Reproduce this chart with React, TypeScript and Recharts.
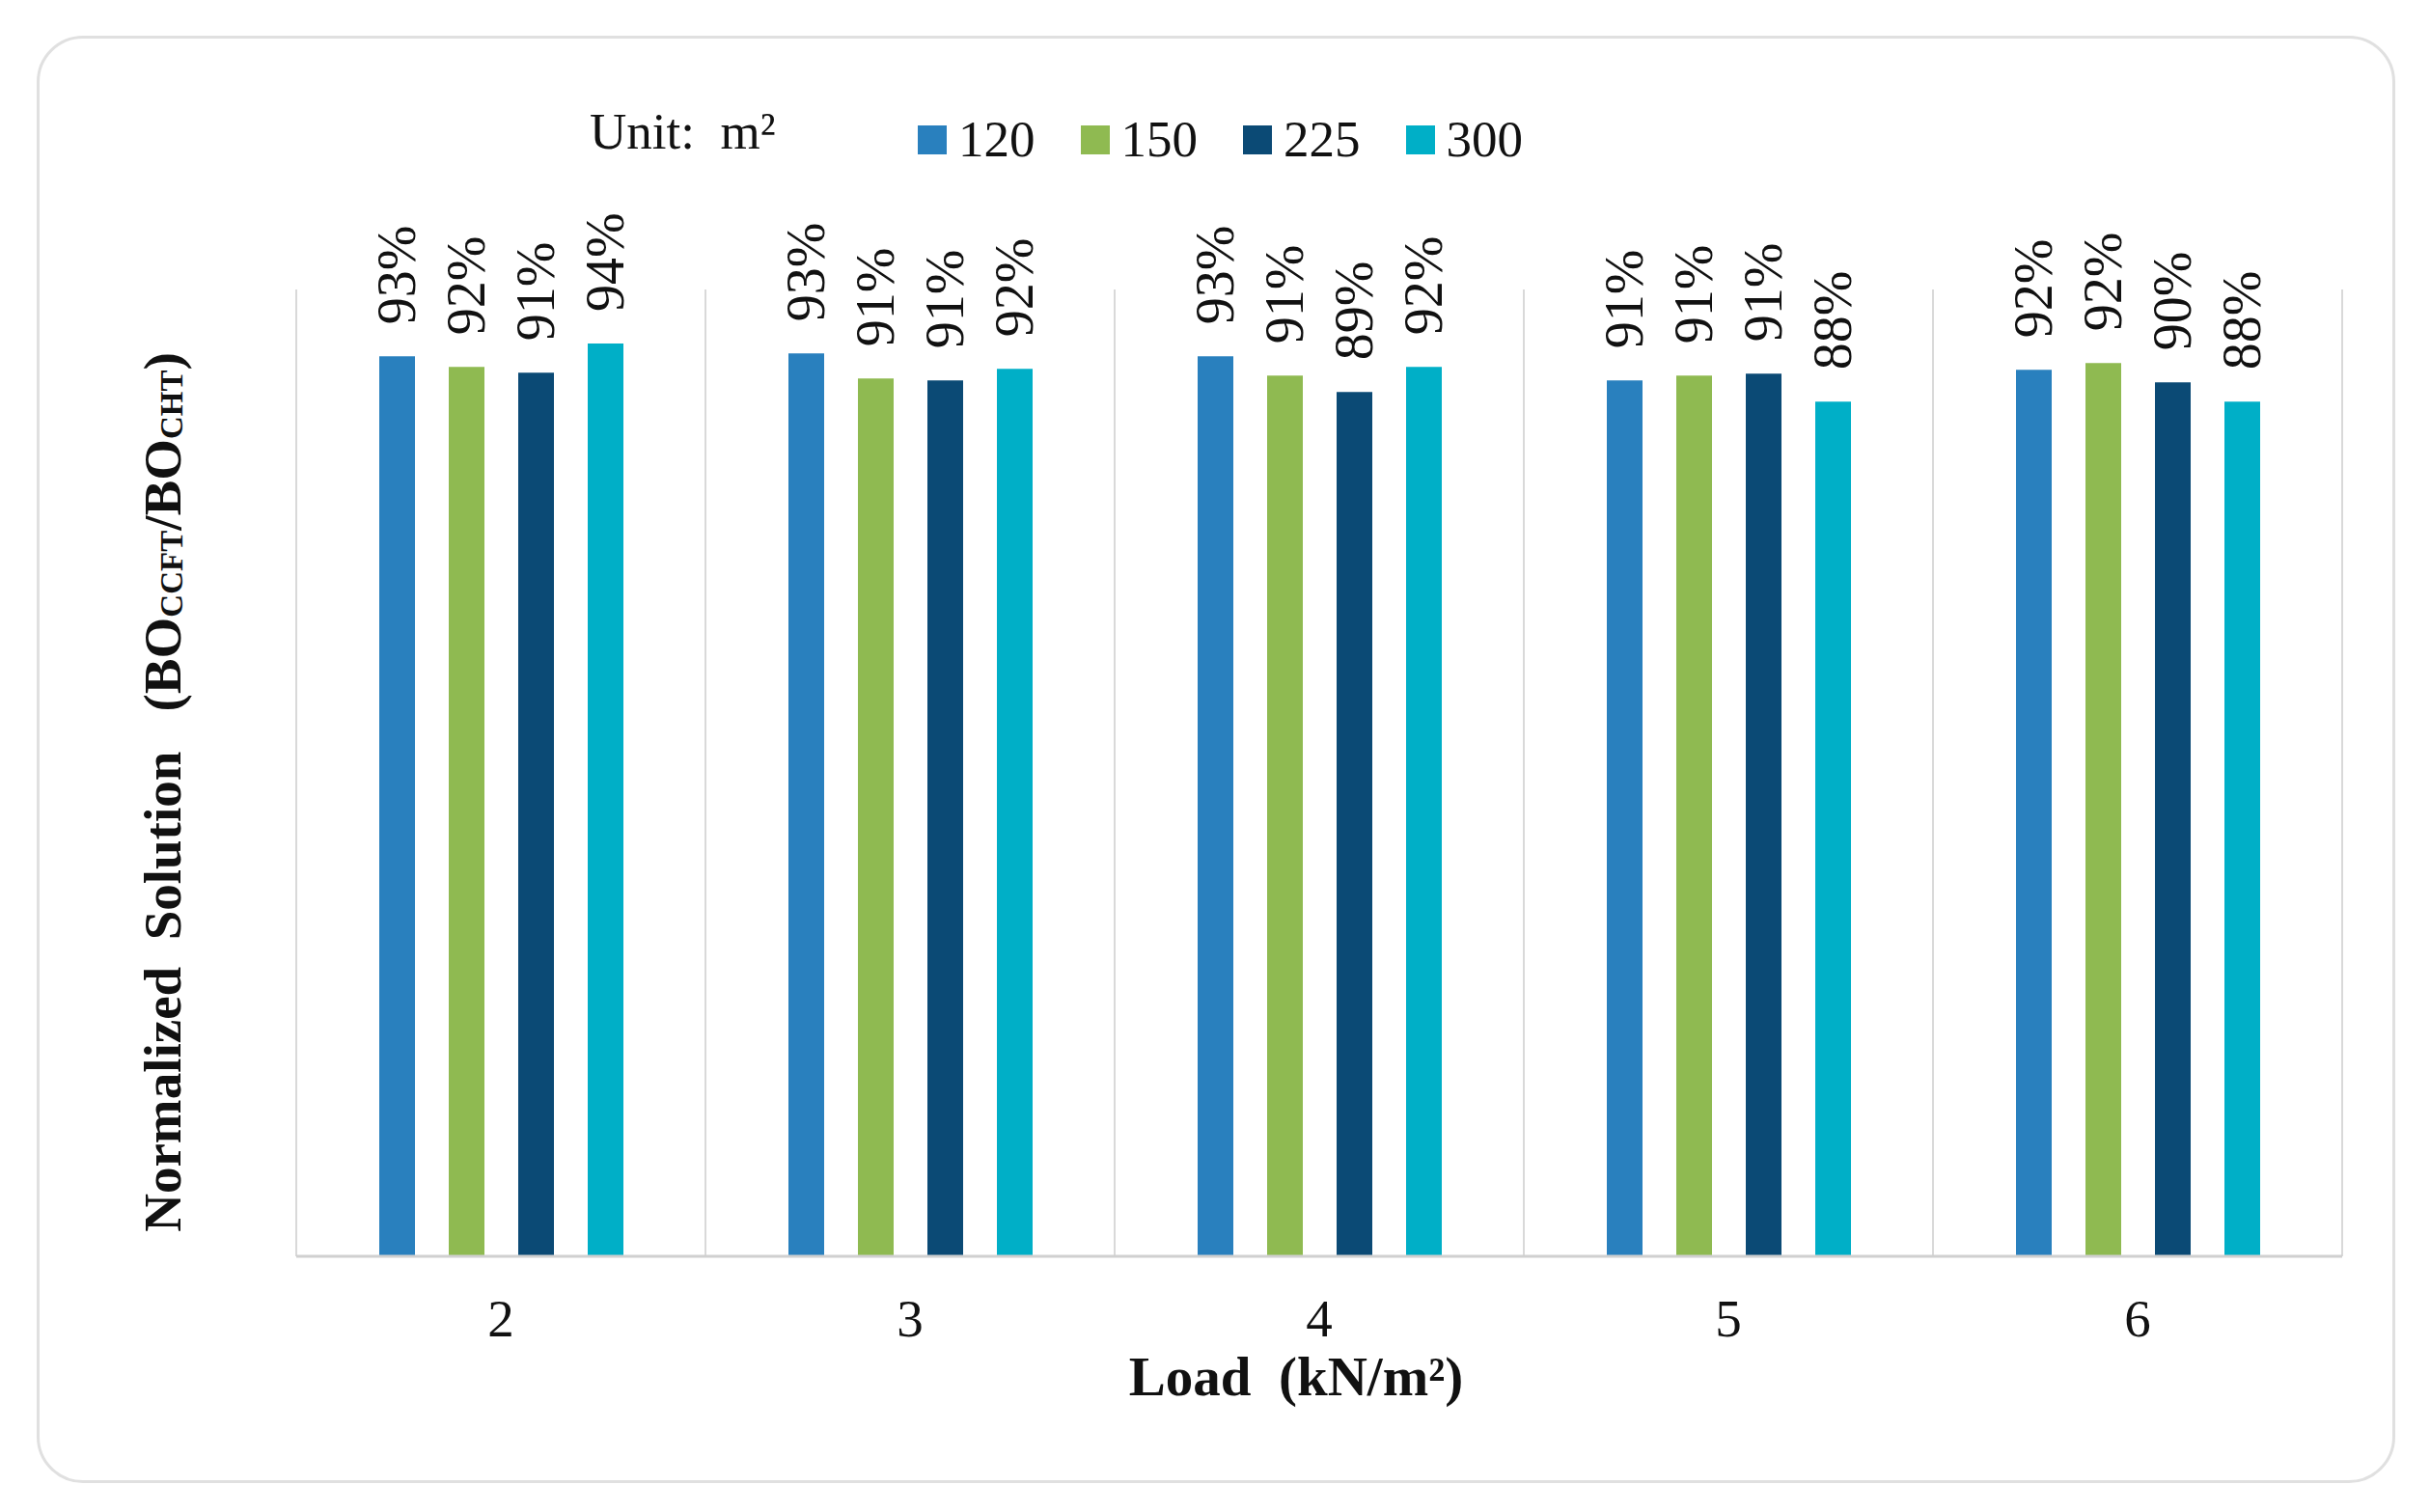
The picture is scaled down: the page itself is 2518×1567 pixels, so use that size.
import React from "react"
import { BarChart, Bar, XAxis, YAxis, CartesianGrid, Legend, LabelList } from "recharts"

const loads = ["2", "3", "4", "5", "6"]
const area120 = [0.931, 0.934, 0.931, 0.906, 0.917]
const area150 = [0.92, 0.908, 0.911, 0.911, 0.924]
const area225 = [0.914, 0.906, 0.894, 0.913, 0.904]
const area300 = [0.944, 0.918, 0.92, 0.884, 0.884]

const seriesNames = ["120", "150", "225", "300"]
const seriesColors = ["#2980be", "#8fba51", "#0b4a75", "#00afc7"]

const data = loads.map((load, i) => ({
  load,
  s120: area120[i],
  s150: area150[i],
  s225: area225[i],
  s300: area300[i],
}))

const FONT = "'Liberation Serif', 'Times New Roman', serif"
const W = 2502
const H = 1551

const pct = (v: number) => `${Math.round(v * 100)}%`

const BarValueLabel = (props: any) => {
  const { x, y, width, value } = props
  const cx = Number(x) + Number(width) / 2
  const cy = Number(y) - 33
  return (
    <text
      x={cx}
      y={cy}
      transform={`rotate(-90 ${cx} ${cy})`}
      textAnchor="start"
      dominantBaseline="central"
      fontFamily={FONT}
      fontSize={56}
      fill="#111"
    >
      {pct(Number(value))}
    </text>
  )
}

const YTitle = (props: any) => {
  const vb = props.viewBox || { x: 0, y: 0, width: 0, height: 0 }
  const cx = vb.x + 160
  const cy = vb.y + vb.height / 2 + 20
  return (
    <text
      x={cx}
      y={cy}
      transform={`rotate(-90 ${cx} ${cy})`}
      textAnchor="middle"
      dominantBaseline="central"
      fontFamily={FONT}
      fontWeight="bold"
      fontSize={55}
      fill="#111"
    >
      <tspan>{"Normalized\u00a0\u00a0Solution\u00a0\u00a0\u00a0(BO"}</tspan>
      <tspan fontSize={33} dy={10}>CCFT</tspan>
      <tspan dy={-10}>/BO</tspan>
      <tspan fontSize={33} dy={10}>CHT</tspan>
      <tspan dy={-10}>)</tspan>
    </text>
  )
}

const XTitle = (props: any) => {
  const vb = props.viewBox || { x: 0, y: 0, width: 0, height: 0 }
  return (
    <text
      x={vb.x + vb.width / 2 - 24}
      y={vb.y + 144}
      textAnchor="middle"
      fontFamily={FONT}
      fontWeight="bold"
      fontSize={57}
      fill="#111"
    >
      {"Load\u00a0\u00a0(kN/m²)"}
    </text>
  )
}

const renderLegend = (props: any) => {
  const { payload = [] } = props
  return (
    <div style={{ display: "flex", alignItems: "center", fontFamily: FONT, fontSize: 53, lineHeight: 1, color: "#111" }}>
      <span style={{ width: 340, position: "relative", top: -8 }}>Unit:&nbsp; m²</span>
      {payload.map((entry: any, index: number) => (
        <span key={`legend-${index}`} style={{ display: "flex", alignItems: "center", marginRight: 47 }}>
          <span style={{ width: 30, height: 30, background: entry.color, marginRight: 12, display: "inline-block" }} />
          <span>{entry.value}</span>
        </span>
      ))}
    </div>
  )
}

export default function App() {
  return (
    <div style={{ position: "relative", width: W, height: H, background: "#fff" }}>
      <div
        style={{
          position: "absolute",
          left: 30,
          top: 29,
          width: 2444,
          height: 1500,
          border: "3px solid #e0e0e0",
          borderRadius: 48,
          boxSizing: "border-box",
        }}
      />
      <div style={{ position: "absolute", left: 0, top: 0 }}>
        <BarChart width={W} height={H} data={data} margin={{ top: 292, right: 83, bottom: 107, left: 0 }} barGap={35}>
          <CartesianGrid
            horizontal={false}
            stroke="#d9d9d9"
            strokeWidth={2}
            verticalCoordinatesGenerator={({ offset }: any) =>
              loads.map((_, i) => offset.left + (i * offset.width) / loads.length).concat(offset.left + offset.width)
            }
          />
          <XAxis
            dataKey="load"
            height={150}
            axisLine={{ stroke: "#d0d0d0", strokeWidth: 3 }}
            tickLine={false}
            tickMargin={38}
            tick={{ fontFamily: FONT, fontSize: 55, fill: "#111" }}
            label={{ content: XTitle }}
          />
          <YAxis
            width={299}
            domain={[0, 1]}
            tick={false}
            axisLine={false}
            tickLine={false}
            label={{ content: YTitle }}
          />
          <Legend
            layout="horizontal"
            verticalAlign="middle"
            align="center"
            content={renderLegend}
            wrapperStyle={{ top: 110, left: 603, width: "auto" }}
          />
          {["s120", "s150", "s225", "s300"].map((key, i) => (
            <Bar key={key} dataKey={key} name={seriesNames[i]} fill={seriesColors[i]} barSize={37} isAnimationActive={false}>
              <LabelList dataKey={key} content={BarValueLabel} />
            </Bar>
          ))}
        </BarChart>
      </div>
    </div>
  )
}
